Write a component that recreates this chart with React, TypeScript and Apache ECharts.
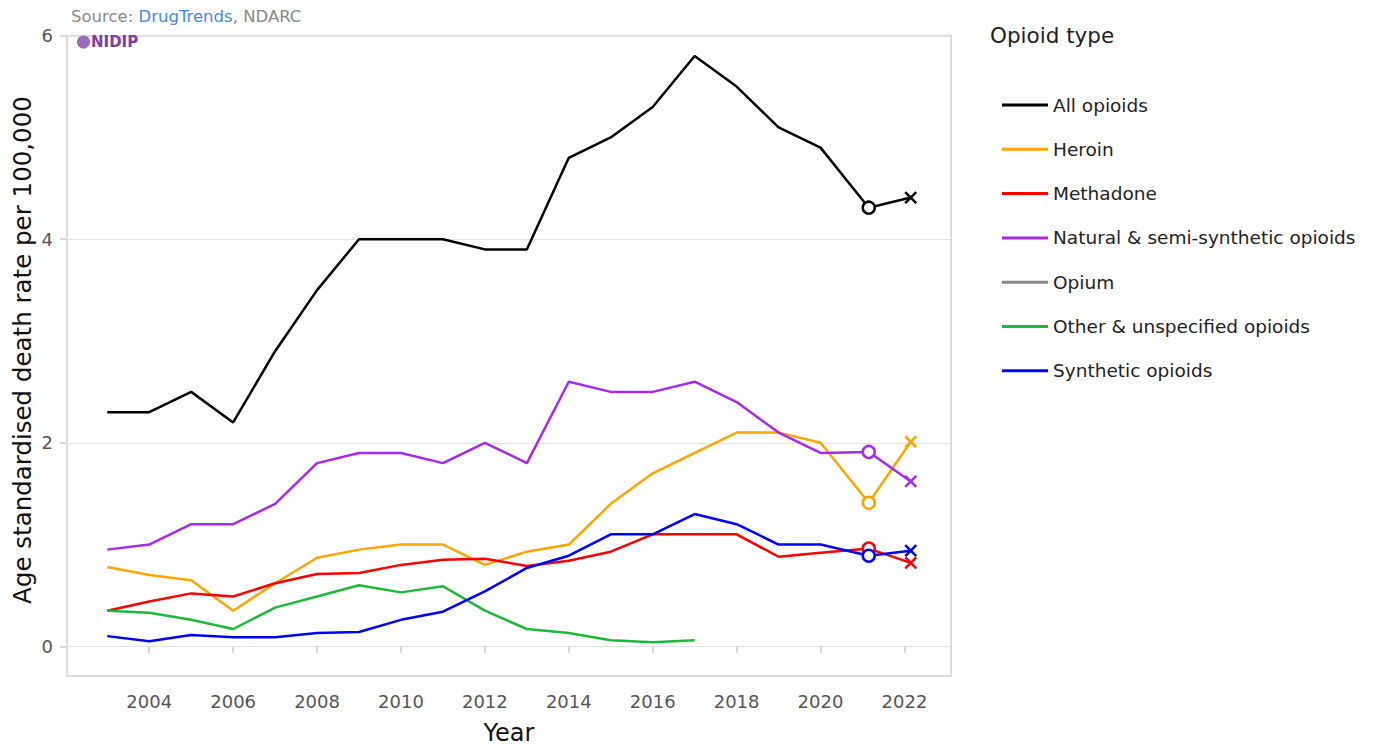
import React, { useEffect, useRef } from "react";
import * as echarts from "echarts";

// x positions of the data points (the two most recent years sit slightly right of the year tick, as in the source)
const xPositions = [
  2003, 2004, 2005, 2006, 2007, 2008, 2009, 2010, 2011, 2012,
  2013, 2014, 2015, 2016, 2017, 2018, 2019, 2020, 2021.15, 2022.15,
];
const xTickYears = [2004, 2006, 2008, 2010, 2012, 2014, 2016, 2018, 2020, 2022];

const seriesNames = [
  "All opioids",
  "Heroin",
  "Methadone",
  "Natural & semi-synthetic opioids",
  "Opium",
  "Other & unspecified opioids",
  "Synthetic opioids",
];
const seriesColors = ["#000000", "#FFA500", "#FF0000", "#A52AEF", "#888888", "#1DB83A", "#0000FF"];

const allOpioids = [2.3, 2.3, 2.5, 2.2, 2.9, 3.5, 4.0, 4.0, 4.0, 3.9, 3.9, 4.8, 5.0, 5.3, 5.8, 5.5, 5.1, 4.9, 4.31, 4.41];
const heroin = [0.78, 0.7, 0.65, 0.35, 0.62, 0.87, 0.95, 1.0, 1.0, 0.8, 0.93, 1.0, 1.4, 1.7, 1.9, 2.1, 2.1, 2.0, 1.41, 2.01];
const methadone = [0.35, 0.44, 0.52, 0.49, 0.62, 0.71, 0.72, 0.8, 0.85, 0.86, 0.79, 0.84, 0.93, 1.1, 1.1, 1.1, 0.88, 0.92, 0.96, 0.82];
const naturalSemi = [0.95, 1.0, 1.2, 1.2, 1.4, 1.8, 1.9, 1.9, 1.8, 2.0, 1.8, 2.6, 2.5, 2.5, 2.6, 2.4, 2.1, 1.9, 1.91, 1.62];
const opium: (number | null)[] = [];
const otherUnspecified = [0.35, 0.33, 0.26, 0.17, 0.38, 0.49, 0.6, 0.53, 0.59, 0.35, 0.17, 0.13, 0.06, 0.04, 0.06, null, null, null, null, null];
const synthetic = [0.1, 0.05, 0.11, 0.09, 0.09, 0.13, 0.14, 0.26, 0.34, 0.54, 0.77, 0.89, 1.1, 1.1, 1.3, 1.2, 1.0, 1.0, 0.89, 0.94];

const seriesValues = [allOpioids, heroin, methadone, naturalSemi, opium, otherUnspecified, synthetic];

const FONT = "DejaVu Sans";
const X_MARK = "path://M0,0L10,10M10,0L0,10";

function buildData(values: (number | null)[], color: string) {
  const out: any[] = [];
  values.forEach((v, i) => {
    if (v == null) return;
    const pt: any = { value: [xPositions[i], v] };
    if (i === xPositions.length - 2) {
      pt.symbol = "circle";
      pt.symbolSize = 12;
      pt.itemStyle = { color: "#ffffff", borderColor: color, borderWidth: 2.5 };
    } else if (i === xPositions.length - 1) {
      pt.symbol = X_MARK;
      pt.symbolSize = 11;
      pt.itemStyle = { color: color, borderColor: color, borderWidth: 2.5 };
    }
    out.push(pt);
  });
  return out;
}

export default function App() {
  const ref = useRef<HTMLDivElement>(null);

  useEffect(() => {
    if (!ref.current) return;
    const chart = echarts.init(ref.current, undefined, { renderer: "svg" });

    const series = seriesNames.map((name, k) => ({
      name,
      type: "line",
      color: seriesColors[k],
      symbol: "none",
      showSymbol: true,
      lineStyle: { width: 2.5, color: seriesColors[k] },
      itemStyle: { color: seriesColors[k] },
      emphasis: { disabled: true },
      data: buildData(seriesValues[k], seriesColors[k]),
      z: 3,
    }));

    chart.setOption({
      animation: false,
      backgroundColor: "#ffffff",
      grid: {
        left: 67,
        right: 423,
        top: 35.7,
        bottom: 101.7,
        containLabel: false,
        outerBoundsMode: "none",
      },
      xAxis: {
        type: "value",
        min: 2002.04,
        max: 2023.11,
        offset: 29.7,
        name: "Year",
        nameLocation: "middle",
        nameGap: 45,
        nameTextStyle: { fontFamily: FONT, fontSize: 24, color: "#111", lineHeight: 24 },
        axisLine: { show: false },
        axisTick: { show: true, length: 7, lineStyle: { color: "#cccccc", width: 1.5 }, customValues: xTickYears },
        axisLabel: {
          show: true,
          customValues: xTickYears,
          margin: 16,
          fontFamily: FONT,
          fontSize: 18,
          color: "#555555",
          formatter: (v: number) => String(v),
        },
        splitLine: { show: false },
      },
      yAxis: {
        type: "value",
        min: 0,
        max: 6,
        interval: 2,
        axisLine: { show: false },
        axisTick: { show: true, length: 7, lineStyle: { color: "#cccccc", width: 1.5 } },
        axisLabel: { margin: 14, fontFamily: FONT, fontSize: 18, color: "#555555" },
        splitLine: { show: true, lineStyle: { color: "#e3e3e3", width: 1 } },
      },
      legend: {
        orient: "vertical",
        left: 997,
        top: 90,
        data: seriesNames,
        icon: "rect",
        itemWidth: 46,
        itemHeight: 3,
        itemGap: 24.3,
        selectedMode: false,
        itemStyle: { borderWidth: 0 },
        textStyle: { fontFamily: FONT, fontSize: 18.5, color: "#222222", lineHeight: 20 },
      },
      graphic: [
        {
          type: "rect",
          shape: { x: 67, y: 35.7, width: 884, height: 640.3 },
          style: { fill: "none", stroke: "#dcdcdc", lineWidth: 2 },
          z: 1,
          silent: true,
        },
        {
          type: "text",
          x: 71,
          y: 16,
          style: {
            text: "{g|Source: }{b|DrugTrends}{g|, NDARC}",
            fontFamily: FONT,
            fontSize: 16.5,
            verticalAlign: "middle",
            rich: {
              g: { fill: "#8a8a8a", fontFamily: FONT, fontSize: 16.5 },
              b: { fill: "#4a86e8", fontFamily: FONT, fontSize: 16.5 },
            },
          },
        },
        {
          type: "circle",
          shape: { cx: 83.5, cy: 42, r: 6.5 },
          style: { fill: "#9a6bb8" },
          z: 5,
        },
        {
          type: "text",
          x: 91,
          y: 42,
          style: {
            text: "NIDIP",
            fontFamily: FONT,
            fontWeight: "bold",
            fontSize: 15,
            fill: "#7e3f9d",
            verticalAlign: "middle",
          },
          z: 5,
        },
        {
          type: "text",
          x: 22,
          y: 350,
          rotation: Math.PI / 2,
          style: {
            text: "Age standardised death rate per 100,000",
            fontFamily: FONT,
            fontSize: 24.5,
            fill: "#111",
            align: "center",
            verticalAlign: "middle",
          },
        },
        {
          type: "text",
          x: 990,
          y: 35,
          style: {
            text: "Opioid type",
            fontFamily: FONT,
            fontSize: 21.5,
            fill: "#222",
            verticalAlign: "middle",
          },
        },
      ],
      series,
    });

    return () => chart.dispose();
  }, []);

  return (
    <div
      ref={ref}
      style={{ position: "fixed", left: 0, top: 0, width: 1374, height: 748, background: "#fff" }}
    />
  );
}
